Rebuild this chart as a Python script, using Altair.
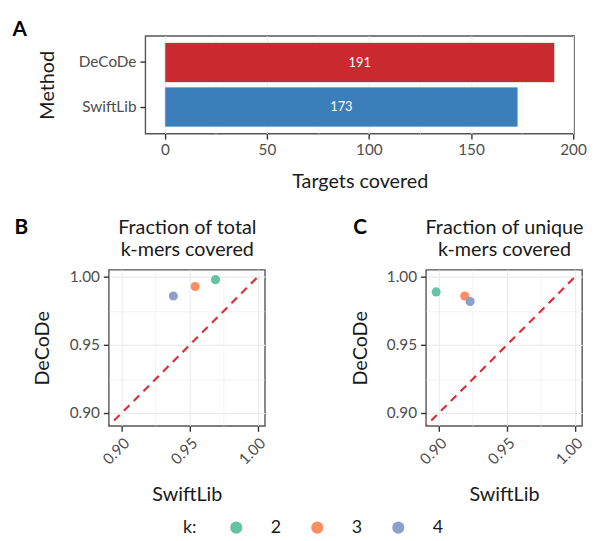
import altair as alt
import pandas as pd

# ---------------- data ----------------
methods = ["DeCoDe", "SwiftLib"]
targets = [191, 173]
method_colors = ["#C9292F", "#3A7EBA"]

k_values = ["2", "3", "4"]
k_colors = ["#66C2A5", "#FC8D62", "#8DA0CB"]
total_swiftlib = [0.969, 0.954, 0.938]
total_decode = [0.998, 0.993, 0.986]
unique_swiftlib = [0.898, 0.919, 0.923]
unique_decode = [0.989, 0.986, 0.982]

a_ticks = [0, 50, 100, 150, 200]
a_minor = [25, 75, 125, 175]
a_domain = [-9.55, 200.55]
kmer_ticks = [0.90, 0.95, 1.00]
kmer_minor = [0.925, 0.975]
kmer_domain = [0.8905, 1.0053]
diag = [0.88, 1.00]

FONT = "Lato"
LABEL_COLOR = "#4D4D4D"
TITLE_COLOR = "#1A1A1A"
GRID = "#EBEBEB"
TICK = "#333333"
LINE_RED = "#DD2E3A"

A_W, A_H = 434, 99
P_W, P_H = 158, 158

# ---------------- panel A ----------------
bar_df = pd.DataFrame({"method": methods, "targets": targets})
xA = alt.Scale(domain=a_domain, nice=False, zero=False)
yA = alt.Scale(domain=methods, paddingInner=0.1, paddingOuter=0.15)

bars = alt.Chart(bar_df).mark_bar(stroke="#F4F4F4", strokeWidth=0.8).encode(
    x=alt.X("targets:Q", scale=xA,
            axis=alt.Axis(orient="bottom", values=a_ticks, title="Targets covered", grid=True,
                          gridWidth=1.1, titleX=A_W / 2, titleY=54, titleBaseline="alphabetic",
                          titleAlign="center")),
    x2=alt.datum(0),
    y=alt.Y("method:N", scale=yA, sort=methods,
            axis=alt.Axis(title="Method", grid=False, titleX=-99, titleY=A_H / 2,
                          titleBaseline="middle", titleAlign="center", titleAngle=-90)),
    color=alt.Color("method:N", scale=alt.Scale(domain=methods, range=method_colors), legend=None),
)

bar_text = alt.Chart(bar_df).transform_calculate(mid="datum.targets / 2").mark_text(
    color="white", fontSize=13, font=FONT
).encode(
    x=alt.X("mid:Q", scale=xA,
            axis=alt.Axis(orient="top", values=a_minor, grid=True, gridWidth=0.6, title="A",
                          labels=False, ticks=False, domain=False,
                          titleX=-135, titleY=0, titleAlign="left", titleBaseline="alphabetic",
                          titleAngle=0, titleFontSize=21, titleFontWeight="bold",
                          titleColor="#000000")),
    y=alt.Y("method:N", scale=yA, sort=methods),
    text="targets:Q",
)

panelA = alt.layer(bars, bar_text).resolve_axis(x="independent").properties(width=A_W, height=A_H)

spacer = alt.Chart(pd.DataFrame({"v": [0]})).mark_point(opacity=0).properties(
    width=37, height=A_H, view=alt.ViewBackground(strokeOpacity=0)
)

rowA = alt.hconcat(spacer, panelA, spacing=0, bounds="flush")


# ---------------- panels B and C ----------------
def kmer_panel(swift, decode, title_lines, letter, letter_x):
    df = pd.DataFrame({"k": k_values, "swift": swift, "decode": decode})
    sc = alt.Scale(domain=kmer_domain, nice=False, zero=False)
    diag_df = pd.DataFrame({"a": diag})
    diag_line = alt.Chart(diag_df).mark_line(
        color=LINE_RED, strokeDash=[8, 6], strokeWidth=2.2, clip=True
    ).encode(
        x=alt.X("a:Q", scale=sc,
                axis=alt.Axis(orient="top", values=kmer_minor, grid=True, gridWidth=0.6,
                              title=title_lines, labels=False, ticks=False, domain=False,
                              titleX=P_W / 2, titleY=-36.7, titleAlign="center",
                              titleBaseline="alphabetic", titleAngle=0,
                              titleLineHeight=22, titleFontSize=20)),
        y=alt.Y("a:Q", scale=sc,
                axis=alt.Axis(orient="right", values=kmer_minor, grid=True, gridWidth=0.6,
                              title=letter, labels=False, ticks=False, domain=False,
                              titleX=letter_x - P_W, titleY=-36.7, titleAlign="left",
                              titleBaseline="alphabetic", titleAngle=0, titleFontSize=21,
                              titleFontWeight="bold", titleColor="#000000")),
    )
    pts = alt.Chart(df).mark_circle(size=85, opacity=1).encode(
        x=alt.X("swift:Q", scale=sc,
                axis=alt.Axis(orient="bottom", values=kmer_ticks, format=".2f", labelAngle=-45,
                              labelAlign="right", labelBaseline="top", labelPadding=4, grid=True,
                              gridWidth=1.1, title="SwiftLib", titleX=P_W / 2, titleY=75.7,
                              titleAlign="center", titleBaseline="alphabetic")),
        y=alt.Y("decode:Q", scale=sc,
                axis=alt.Axis(orient="left", values=kmer_ticks, format=".2f", grid=True,
                              gridWidth=1.1, title="DeCoDe", titleX=-66.6, titleY=P_H / 2,
                              titleAlign="center", titleBaseline="middle", titleAngle=-90)),
        color=alt.Color("k:N", scale=alt.Scale(domain=k_values, range=k_colors),
                        legend=alt.Legend(title="k:", orient="none", direction="horizontal",
                                          legendX=75, legendY=252, titleOrient="left",
                                          titleFontSize=18, titleFontWeight="normal",
                                          titleColor=TITLE_COLOR, titlePadding=31,
                                          labelFontSize=18, labelColor=TITLE_COLOR,
                                          labelOffset=26, columnPadding=27, symbolSize=150,
                                          symbolType="circle", symbolStrokeWidth=0,
                                          symbolOpacity=1)),
    )
    return alt.layer(diag_line, pts).resolve_axis(x="independent", y="independent").properties(
        width=P_W, height=P_H)


panelB = kmer_panel(total_swiftlib, total_decode, ["Fraction of total", "k-mers covered"], "B", -96)
panelC = kmer_panel(unique_swiftlib, unique_decode, ["Fraction of unique", "k-mers covered"], "C", -74)

rowBC = alt.hconcat(panelB, panelC, spacing=163, bounds="flush").resolve_scale(
    x="independent", y="independent", color="shared"
)

chart = alt.vconcat(rowA, rowBC, spacing=236.7, bounds="flush").resolve_scale(
    color="independent"
).properties(
    padding={"left": 3, "top": 7, "right": 0, "bottom": 0}
).configure(
    font=FONT,
).configure_view(
    stroke="#555555", strokeWidth=1.4
).configure_axis(
    labelFont=FONT, titleFont=FONT, labelFontSize=15.5, labelColor=LABEL_COLOR,
    titleFontSize=20, titleFontWeight="normal", titleColor=TITLE_COLOR,
    tickColor=TICK, tickSize=5.5, tickWidth=1.4, domain=False, labelPadding=4,
    gridColor=GRID,
).configure_legend(
    labelFont=FONT, titleFont=FONT,
)

chart.save("out.html", embed_options={"renderer": "svg", "actions": False})
